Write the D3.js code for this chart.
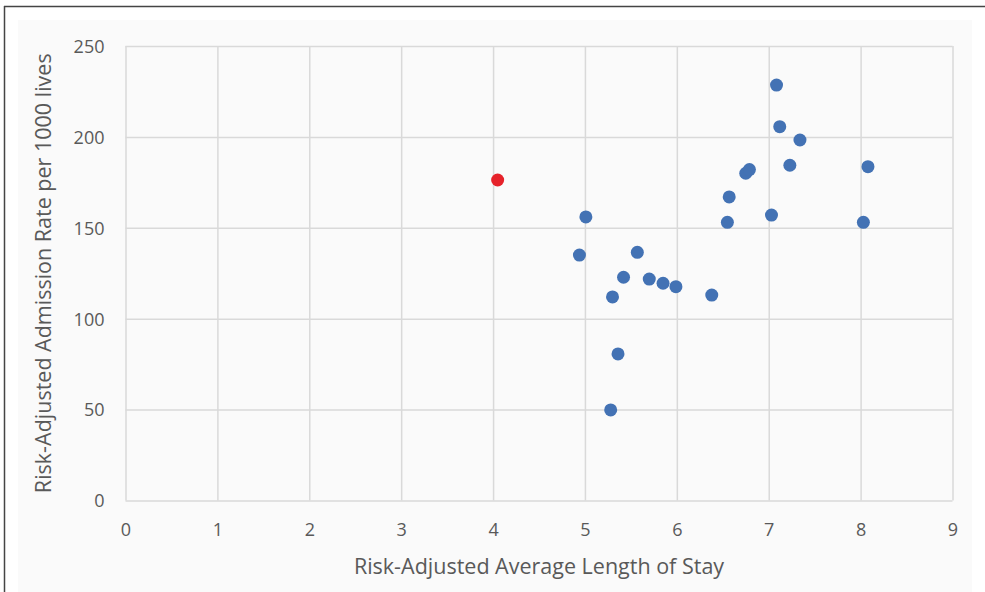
<!DOCTYPE html>
<html>
<head>
<meta charset="utf-8">
<script src="https://cdn.jsdelivr.net/npm/d3@7"></script>
<style>
  html, body { margin: 0; padding: 0; background: #ffffff; }
  svg { display: block; }
</style>
</head>
<body>
<svg id="chart" width="985" height="592"></svg>
<script>
// Data: risk-adjusted average length of stay (x) vs admission rate per 1000 lives (y)
const lengthOfStay = [4.94, 5.01, 5.30, 5.36, 5.28, 5.42, 5.57, 5.70, 5.85, 5.99, 6.38, 6.55, 6.57, 6.75, 6.79, 7.03, 7.085, 7.12, 7.23, 7.34, 8.03, 8.08];
const admissionRate = [135, 156, 112, 80.6, 49.8, 122.8, 136.5, 121.8, 119.5, 117.6, 113, 153, 167, 180, 182, 157, 228.5, 205.6, 184.4, 198.3, 153, 183.6];
const highlightX = [4.05];
const highlightY = [176.3];
const xTicks = [0, 1, 2, 3, 4, 5, 6, 7, 8, 9];
const yTicks = [0, 50, 100, 150, 200, 250];
const xTitle = "Risk-Adjusted Average Length of Stay";
const yTitle = "Risk-Adjusted Admission Rate per 1000 lives";

const svg = d3.select("#chart");
const W = 985, H = 592;
const plot = { left: 125.5, right: 952.5, top: 46, bottom: 500.5 };
const font = "'Open Sans', 'Noto Sans', sans-serif";
const textColor = "#595959";
const gridColor = "#d9d9d9";

// backgrounds
svg.append("rect").attr("x", 0).attr("y", 0).attr("width", W).attr("height", H).attr("fill", "#ffffff");
svg.append("rect").attr("x", 18).attr("y", 20).attr("width", 954).attr("height", H - 20).attr("fill", "#fafafa");
// dark frame (top and left)
svg.append("line").attr("x1", 4).attr("x2", W).attr("y1", 6.5).attr("y2", 6.5)
  .attr("stroke", "#444").attr("stroke-width", 1.5);
svg.append("line").attr("x1", 4.5).attr("x2", 4.5).attr("y1", 6).attr("y2", H)
  .attr("stroke", "#444").attr("stroke-width", 1.5);

const x = d3.scaleLinear().domain([0, 9]).range([plot.left, plot.right]);
const y = d3.scaleLinear().domain([0, 250]).range([plot.bottom, plot.top]);

// gridlines via axes
const gx = svg.append("g").attr("transform", `translate(0,${plot.bottom})`)
  .call(d3.axisBottom(x).tickValues(xTicks).tickSize(-(plot.bottom - plot.top)).tickFormat(d3.format("d")).tickPadding(22));
const gy = svg.append("g").attr("transform", `translate(${plot.left},0)`)
  .call(d3.axisLeft(y).tickValues(yTicks).tickSize(-(plot.right - plot.left)).tickFormat(d3.format("d")).tickPadding(21));
[gx, gy].forEach(g => {
  g.select(".domain").remove();
  g.selectAll(".tick line").attr("stroke", gridColor).attr("stroke-width", 1.5);
  g.selectAll(".tick text").attr("fill", textColor).style("font-family", font).style("font-size", "18px");
});
gx.selectAll(".tick text").attr("dy", "0.32em").attr("y", 30);
gy.selectAll(".tick text").attr("dy", "0.35em");

// axis titles
svg.append("text").attr("x", (plot.left + plot.right) / 2).attr("y", 566)
  .attr("text-anchor", "middle").attr("dy", "0.35em")
  .attr("fill", textColor).style("font-family", font).style("font-size", "21.5px").text(xTitle);
svg.append("text").attr("transform", `translate(43,${(plot.top + plot.bottom) / 2}) rotate(-90)`)
  .attr("text-anchor", "middle").attr("dy", "0.35em")
  .attr("fill", textColor).style("font-family", font).style("font-size", "21.5px").text(yTitle);

// points
const pts = lengthOfStay.map((v, i) => ({ x: v, y: admissionRate[i] }));
svg.append("g").selectAll("circle").data(pts).join("circle")
  .attr("cx", d => x(d.x)).attr("cy", d => y(d.y)).attr("r", 6.5).attr("fill", "#4372b4");
const hl = highlightX.map((v, i) => ({ x: v, y: highlightY[i] }));
svg.append("g").selectAll("circle").data(hl).join("circle")
  .attr("cx", d => x(d.x)).attr("cy", d => y(d.y)).attr("r", 6.5).attr("fill", "#e6222a");
</script>
</body>
</html>
